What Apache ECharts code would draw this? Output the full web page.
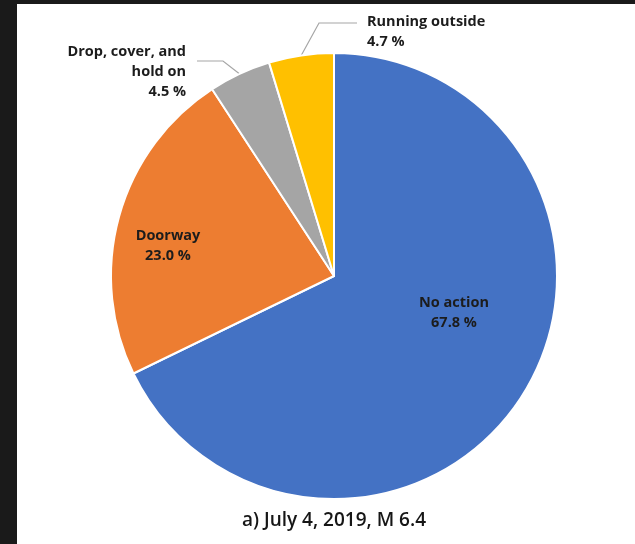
<!DOCTYPE html>
<html>
<head>
<meta charset="utf-8">
<script src="https://cdn.jsdelivr.net/npm/echarts@6/dist/echarts.min.js"></script>
<style>
  html, body { margin: 0; padding: 0; background: #1a1a1a; }
  #chart { width: 635px; height: 544px; }
</style>
</head>
<body>
<div id="chart"></div>
<script>
// Protective action taken during shaking
const categories = ['No action', 'Doorway', 'Drop, cover, and\nhold on', 'Running outside'];
const shares = [67.8, 23.0, 4.5, 4.7];
const sliceColors = ['#4472C4', '#ED7D31', '#A5A5A5', '#FFC000'];
const caption = 'a) July 4, 2019, M 6.4';

// Where each label sits, and the bend/end of the leader lines for the outside ones
const labelSpots = [
  { x: 454, y: 313, align: 'center' },
  { x: 168, y: 246, align: 'center' },
  { x: 186, y: 72, align: 'right', bend: [223, 61], end: [197, 61] },
  { x: 367, y: 32, align: 'left', bend: [319, 23], end: [357, 23] }
];

const chart = echarts.init(document.getElementById('chart'), null, { renderer: 'canvas' });

const pieData = categories.map((name, i) => {
  const outside = !!labelSpots[i].bend;
  return {
    name: name,
    value: shares[i],
    itemStyle: { color: sliceColors[i] },
    label: { position: outside ? 'outside' : 'inside' },
    labelLine: { show: outside }
  };
});

chart.setOption({
  animation: false,
  backgroundColor: '#1a1a1a',
  graphic: [{
    type: 'rect',
    shape: { x: 17, y: 4, width: 618, height: 540 },
    style: { fill: '#ffffff' },
    z: -10
  }],
  title: {
    text: caption,
    left: 329,
    textAlign: 'center',
    top: 506,
    textStyle: { fontFamily: 'Open Sans', fontSize: 19, fontWeight: 600, color: '#161616' }
  },
  series: [{
    type: 'pie',
    center: [334, 276],
    radius: 223,
    startAngle: 90,
    clockwise: true,
    avoidLabelOverlap: false,
    itemStyle: { borderColor: '#ffffff', borderWidth: 2 },
    emphasis: { disabled: true },
    label: {
      show: true,
      formatter: p => p.name + '\n' + p.value.toFixed(1) + ' %',
      fontFamily: 'Open Sans',
      fontSize: 14.5,
      fontWeight: 'bold',
      lineHeight: 20,
      color: '#1c1c1c'
    },
    labelLine: {
      length: 10,
      length2: 20,
      lineStyle: { color: '#a6a6a6', width: 1.2 }
    },
    labelLayout: function (p) {
      const spot = labelSpots[p.dataIndex];
      const out = { x: spot.x, y: spot.y, align: spot.align, verticalAlign: 'middle' };
      if (spot.bend && p.labelLinePoints) {
        out.labelLinePoints = [p.labelLinePoints[0], spot.bend, spot.end];
      }
      return out;
    },
    data: pieData
  }]
});
</script>
</body>
</html>
